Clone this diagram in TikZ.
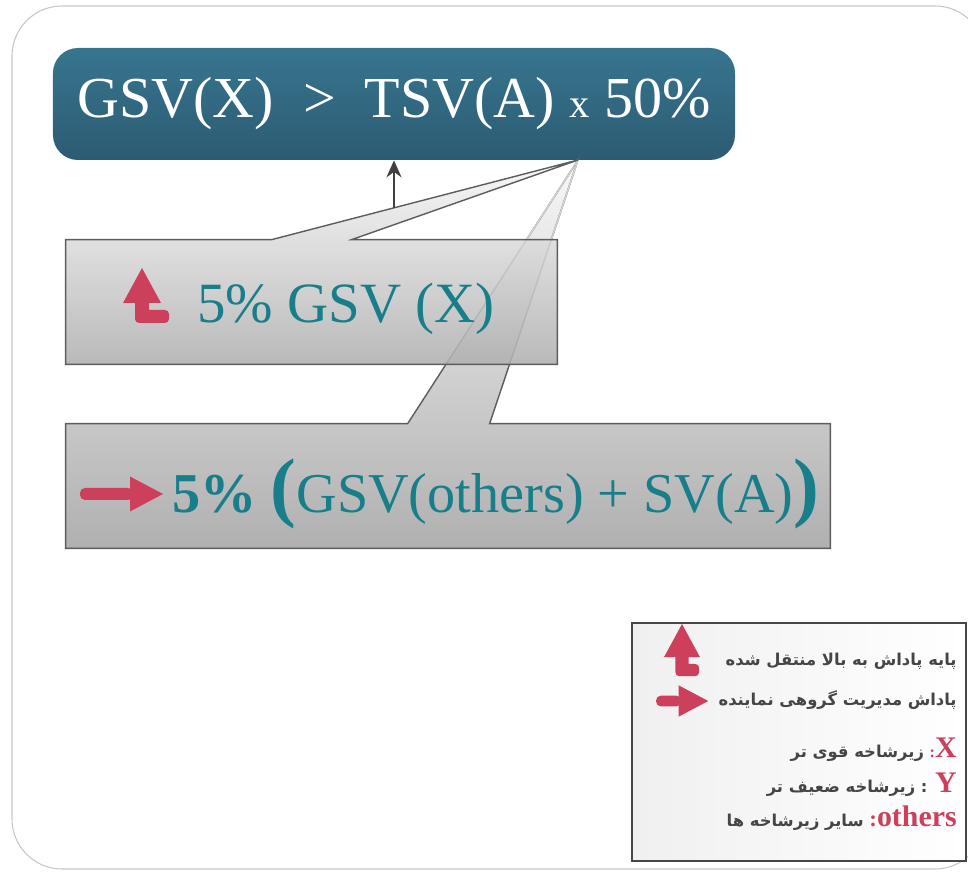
\documentclass[tikz,border=0pt]{standalone}
\usepackage{fontspec}
\setmainfont{Liberation Serif}
\newfontfamily\farsi[Script=Arabic]{DejaVu Sans}
\TeXXeTstate=1
\usetikzlibrary{calc,arrows.meta}
\definecolor{deeptop}{HTML}{37758F}
\definecolor{deepbot}{HTML}{2C5B73}
\definecolor{ink}{HTML}{177E8A}
\definecolor{rose}{HTML}{CC405C}
\definecolor{rim}{HTML}{5C5C5C}
\definecolor{hint}{HTML}{454545}

\begin{document}
\begin{tikzpicture}[x=0.2mm,y=-0.2mm,
    frame/.style={draw=gray!45,line width=0.6pt,rounded corners=10mm},
    cond/.style={rounded corners=5mm,top color=deeptop,bottom color=deepbot,minimum width=136.4mm,minimum height=22.4mm,text=white,font=\fontsize{33}{33}\selectfont},
    slot/.style={inner sep=0pt},
    bubble/.style={draw=rim,line width=0.8pt,top color=gray!6,bottom color=gray!62},
    faint/.style={draw=gray!35,line width=0.8pt},
    gain/.style={text=ink,inner sep=0pt,anchor=base west},
    legendbox/.style={draw=gray!55!black,line width=1.1pt,left color=gray!12,right color=white,minimum width=66.8mm,minimum height=47.6mm},
    note/.style={text=hint,inner sep=0pt,anchor=base east,font=\farsi\bfseries\fontsize{9.3}{9.3}\selectfont},
    key/.style={text=rose,font=\rmfamily\bfseries\fontsize{17}{17}\selectfont},
    arrow/.style={-{Stealth[length=3.4mm,width=3mm]},line width=1.3pt,draw=black!75},
    pics/upturn/.style={code={
      \fill[rose] (0,0) -- (19,35) -- (7,35) -- (7,42) [rounded corners=0.8mm] -- (#1,42) -- (#1,55) -- (-7,55) [sharp corners] -- (-7,35) -- (-19,35) -- cycle;}},
    pics/rightarrow/.style={code={
      \fill[rose,rounded corners=1mm] (0,-6) rectangle (#1+3,6);
      \fill[rose] (#1,-17.5) -- (#1+33,0) -- (#1,17.5) -- cycle;}}
  ]
  \useasboundingbox (0,0) rectangle (968,872);
  \draw[frame] (12,6) rectangle (985,869);

  \node[cond] (cond) at (394,104) {GSV(X)~~>~~TSV(A) {\fontsize{23}{23}\selectfont x} 50\%};
  \coordinate (tip) at (578,160);

  % the two callouts
  \node[slot,minimum width=152.8mm,minimum height=24.8mm] (box2) at (448,486) {};
  \node[slot,minimum width=98.2mm,minimum height=24.8mm] (box1) at (311.5,302) {};
  \coordinate (c2l) at ($(box2.north west)+(342,0)$);
  \coordinate (c2r) at ($(box2.north west)+(424,0)$);
  \path[bubble] (box2.north west) -- (c2l) -- (tip) -- (c2r) -- (box2.north east) -- (box2.south east) -- (box2.south west) -- cycle;
  \draw[faint] (tip) -- ($(tip)!0.303!(c2l)$);
  \draw[faint] (tip) -- ($(tip)!0.303!(c2r)$);
  \path[bubble,fill opacity=0.88] (box1.north west) -- ($(box1.north west)+(206,0)$) -- (tip) -- ($(box1.north west)+(286,0)$) -- (box1.north east) -- (box1.south east) -- (box1.south west) -- cycle;

  \coordinate (foot) at (394,208);
  \draw[arrow] (foot) -- (cond.south);

  \pic at (142,268) {upturn=27};
  \node[gain,font=\fontsize{32.4}{32.4}\selectfont] (gain1) at (197,323) {5\% GSV (X)};
  \pic at (80,494) {rightarrow=50};
  \node[gain,font=\fontsize{32}{32}\selectfont] (gain2) at (172,513) {{\bfseries 5\%} {\bfseries\fontsize{44}{44}\selectfont(}GSV(others) + SV(A){\bfseries\fontsize{44}{44}\selectfont)}};

  % legend
  \node[legendbox] (legend) at (799,742) {};
  \pic[scale=0.95] at (682,624) {upturn=18};
  \pic[scale=0.9] at (656,701) {rightarrow=25};
  \node[note] (note1) at (957,665) {\beginR پایه پاداش به بالا منتقل شده\endR};
  \node[note] (note2) at (957,705) {\beginR پاداش مدیریت گروهی نماینده\endR};
  \node[note] (note3) at (957,757) {\beginR زیرشاخه قوی تر\endR\ {\rmfamily\color{rose}:}{\rmfamily\bfseries\fontsize{17}{17}\selectfont\color{rose}X}};
  \node[note] (note4) at (957,792) {\beginR زیرشاخه ضعیف تر\endR\ : {\rmfamily\bfseries\fontsize{17}{17}\selectfont\color{rose}Y}};
  \node[note] (note5) at (957,826) {\beginR سایر زیرشاخه  ها\endR\ {\rmfamily\fontsize{13}{13}\selectfont\color{rose}:}{\rmfamily\bfseries\fontsize{17}{17}\selectfont\color{rose}others}};
\end{tikzpicture}
\end{document}
